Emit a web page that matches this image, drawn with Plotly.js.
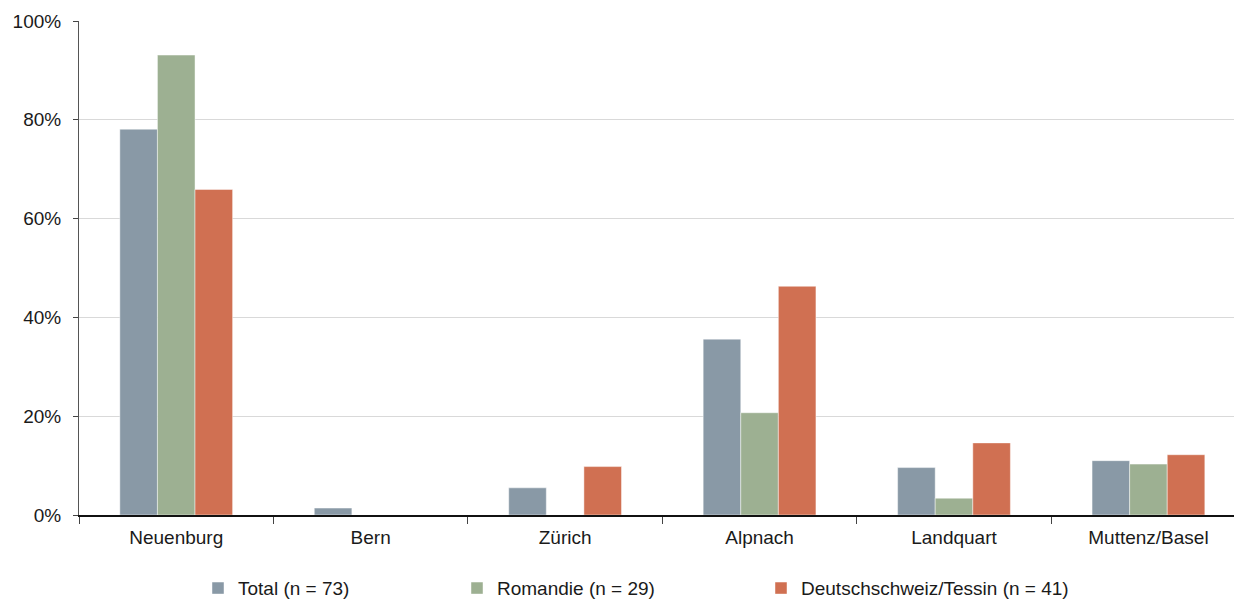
<!DOCTYPE html>
<html>
<head>
<meta charset="utf-8">
<script src="https://cdn.plot.ly/plotly-3.0.1.min.js"></script>
<style>
  html, body { margin: 0; padding: 0; background: #fff; }
  #chart { width: 1234px; height: 599px; }
</style>
</head>
<body>
<div id="chart"></div>
<script>
// Share of respondents per location, by language region (percent)
const categories = ['Neuenburg', 'Bern', 'Zürich', 'Alpnach', 'Landquart', 'Muttenz/Basel'];
const seriesNames = ['Total (n = 73)', 'Romandie (n = 29)', 'Deutschschweiz/Tessin (n = 41)'];
const totalValues = [78.1, 1.4, 5.5, 35.6, 9.6, 11.0];
const romandieValues = [93.1, 0, 0, 20.7, 3.4, 10.3];
const deutschschweizValues = [65.9, 0, 9.8, 46.3, 14.6, 12.2];
const yTicks = [0, 20, 40, 60, 80, 100];

const colors = ['#8999A6', '#9DB092', '#D07052'];
const seriesValues = [totalValues, romandieValues, deutschschweizValues];
const legendIds = ['legend', 'legend2', 'legend3'];
const legendX = [198, 457, 761];

const font = 'Liberation Sans, Arial, sans-serif';

const traces = seriesValues.map((vals, i) => ({
  type: 'bar',
  name: seriesNames[i],
  x: categories,
  y: vals,
  legend: legendIds[i],
  marker: { color: colors[i], line: { color: 'rgba(255,255,255,0.45)', width: 1 } },
  hoverinfo: 'x+y+name'
}));

const legendBase = {
  orientation: 'h',
  xref: 'container', yref: 'container',
  xanchor: 'left', yanchor: 'middle',
  y: 0.018,
  font: { family: font, size: 19, color: '#1a1a1a' },
  bgcolor: 'rgba(0,0,0,0)',
  borderwidth: 0,
  itemwidth: 30
};

const layout = {
  width: 1234, height: 599,
  margin: { l: 79, r: 0, t: 21, b: 84 },
  paper_bgcolor: '#fff', plot_bgcolor: '#fff',
  barmode: 'group',
  bargap: 0.42,
  bargroupgap: 0,
  showlegend: true,
  xaxis: {
    type: 'category',
    range: [-0.5, 5.44],
    tickson: 'boundaries',
    ticks: 'outside', ticklen: 7, tickwidth: 1, tickcolor: '#444',
    showline: true, linecolor: '#111', linewidth: 1.5,
    showgrid: false, zeroline: false,
    tickfont: { family: font, size: 19, color: '#1a1a1a' },
    ticklabelstandoff: 5
  },
  yaxis: {
    range: [0, 100],
    tickvals: yTicks,
    ticktext: yTicks.map(v => v + '%'),
    ticks: 'outside', ticklen: 5, tickwidth: 1, tickcolor: '#444',
    showline: true, linecolor: '#555', linewidth: 1,
    showgrid: true, gridcolor: '#D9D9D9', gridwidth: 1.3,
    zeroline: false,
    tickfont: { family: font, size: 19, color: '#1a1a1a' },
    ticklabelstandoff: 8
  },
  legend: Object.assign({}, legendBase, { x: legendX[0] / 1234 }),
  legend2: Object.assign({}, legendBase, { x: legendX[1] / 1234 }),
  legend3: Object.assign({}, legendBase, { x: legendX[2] / 1234 })
};

Plotly.newPlot('chart', traces, layout, { displayModeBar: false, staticPlot: true });
</script>
</body>
</html>
